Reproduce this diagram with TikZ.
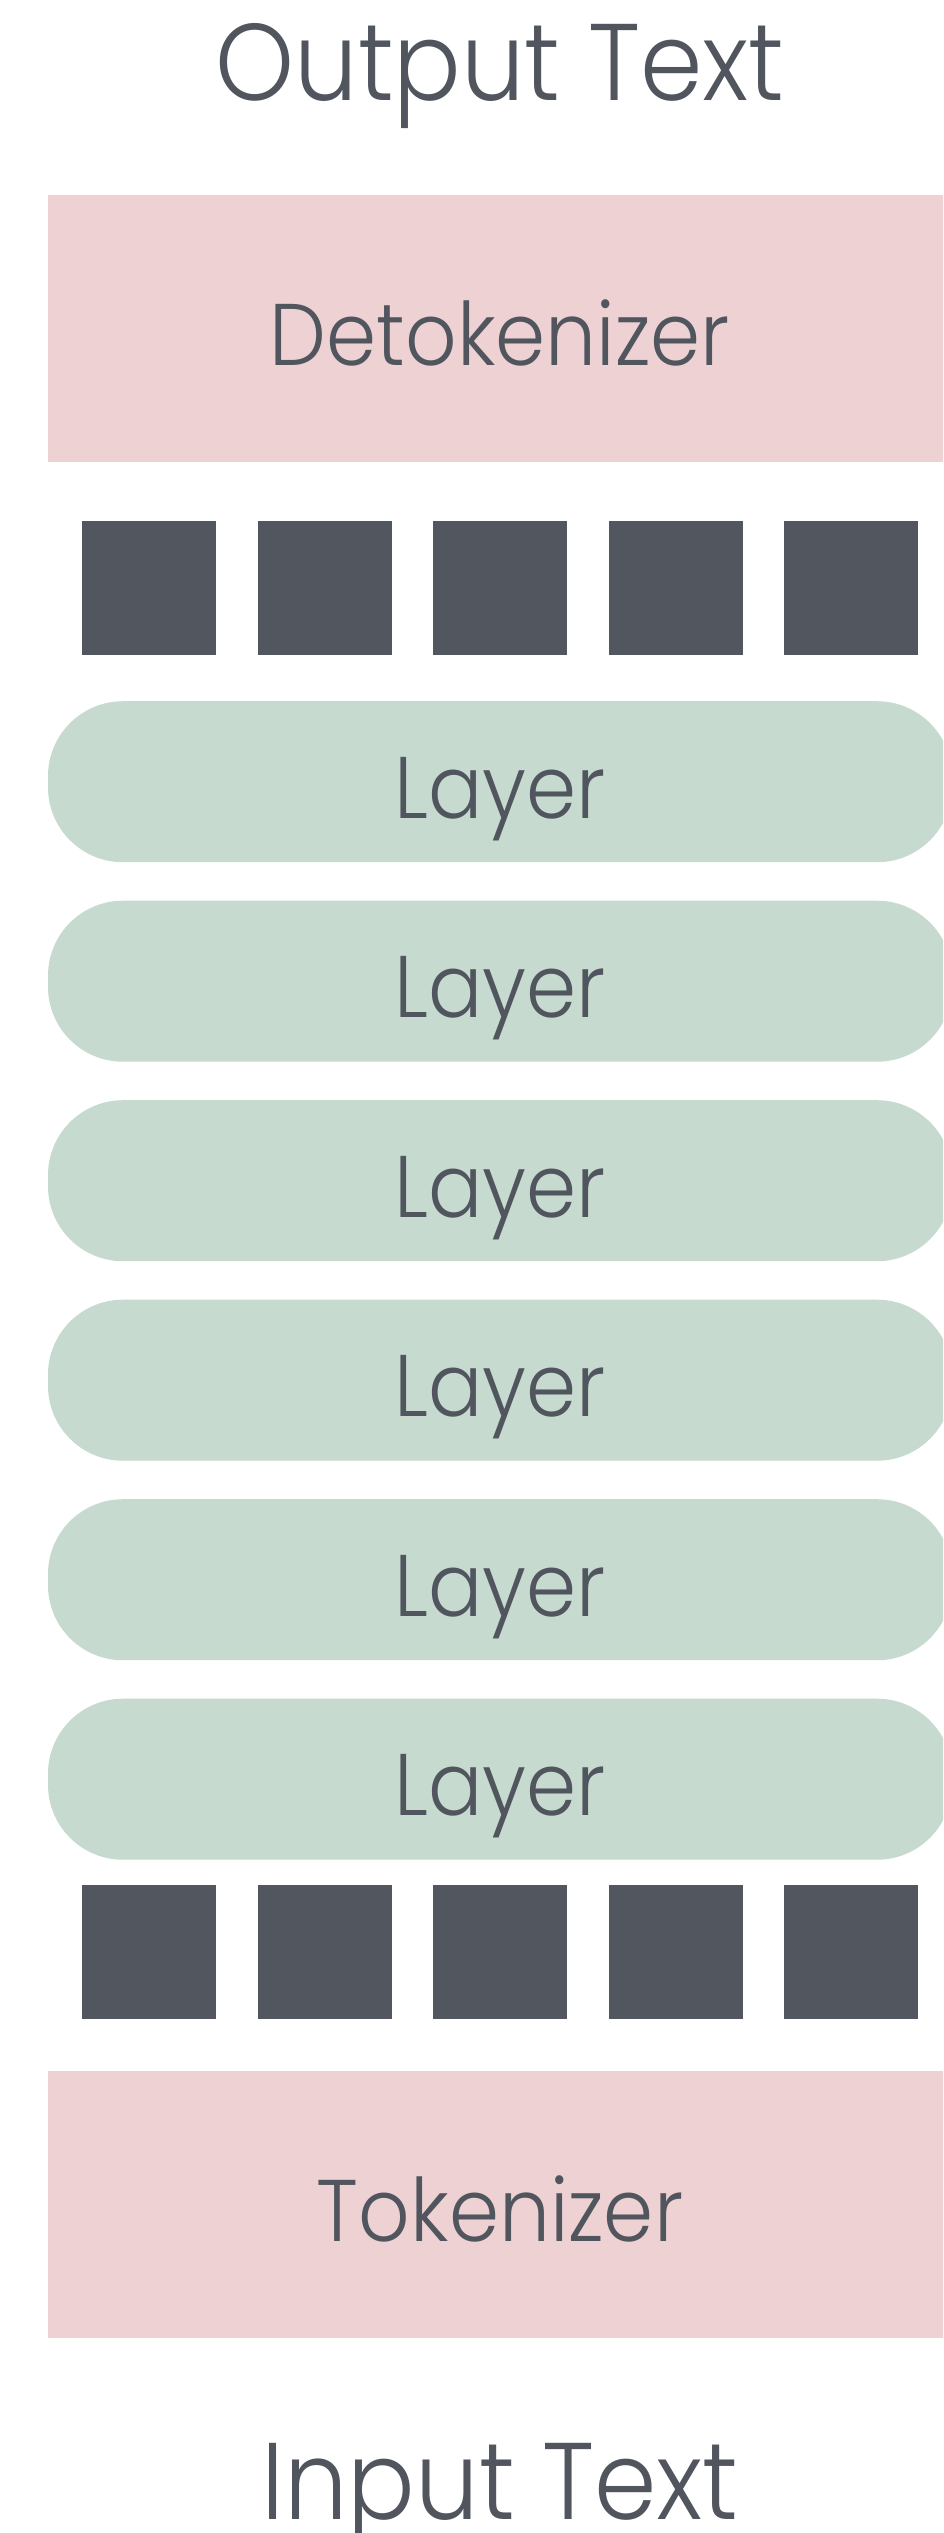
\documentclass[tikz,border=0pt]{standalone}
\usepackage{fontspec}
\setmainfont{Poppins Light}[FakeStretch=0.92]
\definecolor{txtgray}{HTML}{50555E}
\definecolor{tokpink}{HTML}{EDD1D3}
\definecolor{laygreen}{HTML}{C6DACF}
\definecolor{sqgray}{HTML}{52575F}
\tikzset{
  tokbox/.style={rectangle, fill=tokpink, draw=none, minimum width=904pt, minimum height=267pt, inner sep=0pt},
  laybox/.style={rectangle, rounded corners=75pt, fill=laygreen, draw=none, minimum width=904pt, minimum height=161pt, inner sep=0pt},
  tokensq/.style={rectangle, fill=sqgray, draw=none, minimum width=134pt, minimum height=134pt, inner sep=0pt},
  bigtxt/.style={text=txtgray, font=\fontsize{109}{120}\selectfont, inner sep=0pt, anchor=base},
  boxtxt/.style={text=txtgray, font=\fontsize{87.5}{96}\selectfont, inner sep=0pt, anchor=base}
}
\begin{document}
\begin{tikzpicture}[x=1pt,y=-1pt]
  \useasboundingbox (0,0) rectangle (943,2533);
  \clip (0,0) rectangle (943,2533);
  \fill[white] (0,0) rectangle (943,2533);
  % output text
  \node[bigtxt] (out) at (500,100) {Output Text};
  % detokenizer
  \node[tokbox] (detok) at (500,328.5) {};
  \node[boxtxt] (detoklbl) at (500,365) {Detokenizer};
  % top tokens
  \foreach \i/\x in {1/149,2/324.5,3/500,4/675.5,5/851}{
    \node[tokensq] (top\i) at (\x,588) {};
  }
  % layers
  \foreach \k in {0,...,5}{
    \pgfmathsetmacro{\ytop}{701+199.5*\k}
    \node[laybox, anchor=north] (layer\k) at (500,\ytop) {};
    \node[boxtxt] (layerlbl\k) at (500,\ytop+117) {Layer};
  }
  % bottom tokens
  \foreach \i/\x in {1/149,2/324.5,3/500,4/675.5,5/851}{
    \node[tokensq] (bot\i) at (\x,1951.5) {};
  }
  % tokenizer
  \node[tokbox] (tok) at (500,2204.5) {};
  \node[boxtxt] (toklbl) at (500,2241) {Tokenizer};
  % input text
  \node[bigtxt] (in) at (500,2519) {Input Text};
\end{tikzpicture}
\end{document}
